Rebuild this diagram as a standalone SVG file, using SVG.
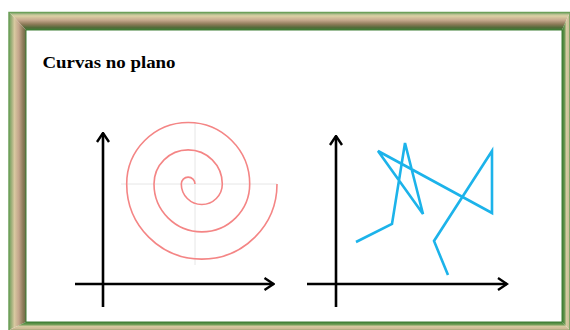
<svg xmlns="http://www.w3.org/2000/svg" width="570" height="330" viewBox="0 0 570 330">
  <defs>
    <linearGradient id="gTop" gradientUnits="userSpaceOnUse" x1="0" y1="12" x2="0" y2="30">
      <stop offset="0" stop-color="#6f9f5c"/>
      <stop offset="0.1" stop-color="#a9b98a"/>
      <stop offset="0.22" stop-color="#dcd1a4"/>
      <stop offset="0.45" stop-color="#c6a98e"/>
      <stop offset="0.68" stop-color="#8d7a58"/>
      <stop offset="0.86" stop-color="#556b3a"/>
      <stop offset="1" stop-color="#3f7a35"/>
    </linearGradient>
    <linearGradient id="gLeft" gradientUnits="userSpaceOnUse" x1="9" y1="0" x2="26" y2="0">
      <stop offset="0" stop-color="#6f9f5c"/>
      <stop offset="0.15" stop-color="#9fb07a"/>
      <stop offset="0.32" stop-color="#d8c9a0"/>
      <stop offset="0.58" stop-color="#c4a58c"/>
      <stop offset="0.82" stop-color="#8e7c5a"/>
      <stop offset="1" stop-color="#6a6a45"/>
    </linearGradient>
    <linearGradient id="gRight" gradientUnits="userSpaceOnUse" x1="562" y1="0" x2="570" y2="0">
      <stop offset="0" stop-color="#3f7f35"/>
      <stop offset="0.28" stop-color="#5e9048"/>
      <stop offset="0.55" stop-color="#d5caa0"/>
      <stop offset="1" stop-color="#c8b794"/>
    </linearGradient>
    <linearGradient id="gBottom" gradientUnits="userSpaceOnUse" x1="0" y1="322" x2="0" y2="330">
      <stop offset="0" stop-color="#3f7f35"/>
      <stop offset="0.3" stop-color="#6a9a52"/>
      <stop offset="0.55" stop-color="#d6c9a0"/>
      <stop offset="1" stop-color="#c9b090"/>
    </linearGradient>
    <marker id="chev" viewBox="0 0 12 14" refX="10.5" refY="7" markerWidth="12" markerHeight="14" markerUnits="userSpaceOnUse" orient="auto">
      <path d="M1.5,1 L10.5,7 L1.5,13" fill="none" stroke="#000" stroke-width="2.4" stroke-linejoin="miter"/>
    </marker>
    <style>
      .axis { fill: none; stroke: #000; stroke-width: 2.6; }
      .guide { fill: none; stroke: #e6e6e6; stroke-width: 1; }
      .spiral { fill: none; stroke: #f48585; stroke-width: 1.6; }
      .zigzag { fill: none; stroke: #1cb3ea; stroke-width: 2.6; stroke-linejoin: miter; stroke-linecap: butt; }
      .title { font-family: "Liberation Serif", serif; font-weight: bold; font-size: 17px; fill: #000; }
    </style>
  </defs>

  <g id="frame">
    <polygon points="9,12 570,12 562,30 26,30" fill="url(#gTop)"/>
    <polygon points="9,12 26,30 26,322 9,330" fill="url(#gLeft)"/>
    <polygon points="570,12 570,330 562,322 562,30" fill="url(#gRight)"/>
    <polygon points="9,330 570,330 562,322 26,322" fill="url(#gBottom)"/>
    <rect x="9" y="12.5" width="561" height="318" fill="none" stroke="#6da05a" stroke-width="1.5"/>
    <rect x="26" y="30" width="536" height="292" fill="#ffffff" stroke="#3f7f35" stroke-width="1"/>
  </g>

  <g id="title">
    <text class="title" x="42.5" y="68" textLength="133" lengthAdjust="spacingAndGlyphs">Curvas no plano</text>
  </g>

  <g id="spiral-plot">
    <line class="guide" x1="121" y1="184" x2="277" y2="184"/>
    <line class="guide" x1="195" y1="122" x2="195" y2="265"/>
    <path class="spiral" d="M277,184 A75.15,75.15 0 0 1 126.7,184 A61.5,61.5 0 0 1 249.7,184 A47.85,47.85 0 0 1 154,184 A34.15,34.15 0 0 1 222.3,184 A20.5,20.5 0 0 1 181.3,184 A6.85,6.85 0 0 1 195,184"/>
  </g>

  <g id="zigzag-plot">
    <polyline class="zigzag" points="356,242 392,224 405,143 423,214 378,151 492,213 492,151 434,241 448,275"/>
  </g>

  <g id="connectors">
    <line class="axis" x1="103" y1="307" x2="103" y2="133" marker-end="url(#chev)"/>
    <line class="axis" x1="75" y1="284" x2="273.5" y2="284" marker-end="url(#chev)"/>
    <line class="axis" x1="336" y1="307" x2="336" y2="136" marker-end="url(#chev)"/>
    <line class="axis" x1="307" y1="284" x2="507" y2="284" marker-end="url(#chev)"/>
  </g>
</svg>
